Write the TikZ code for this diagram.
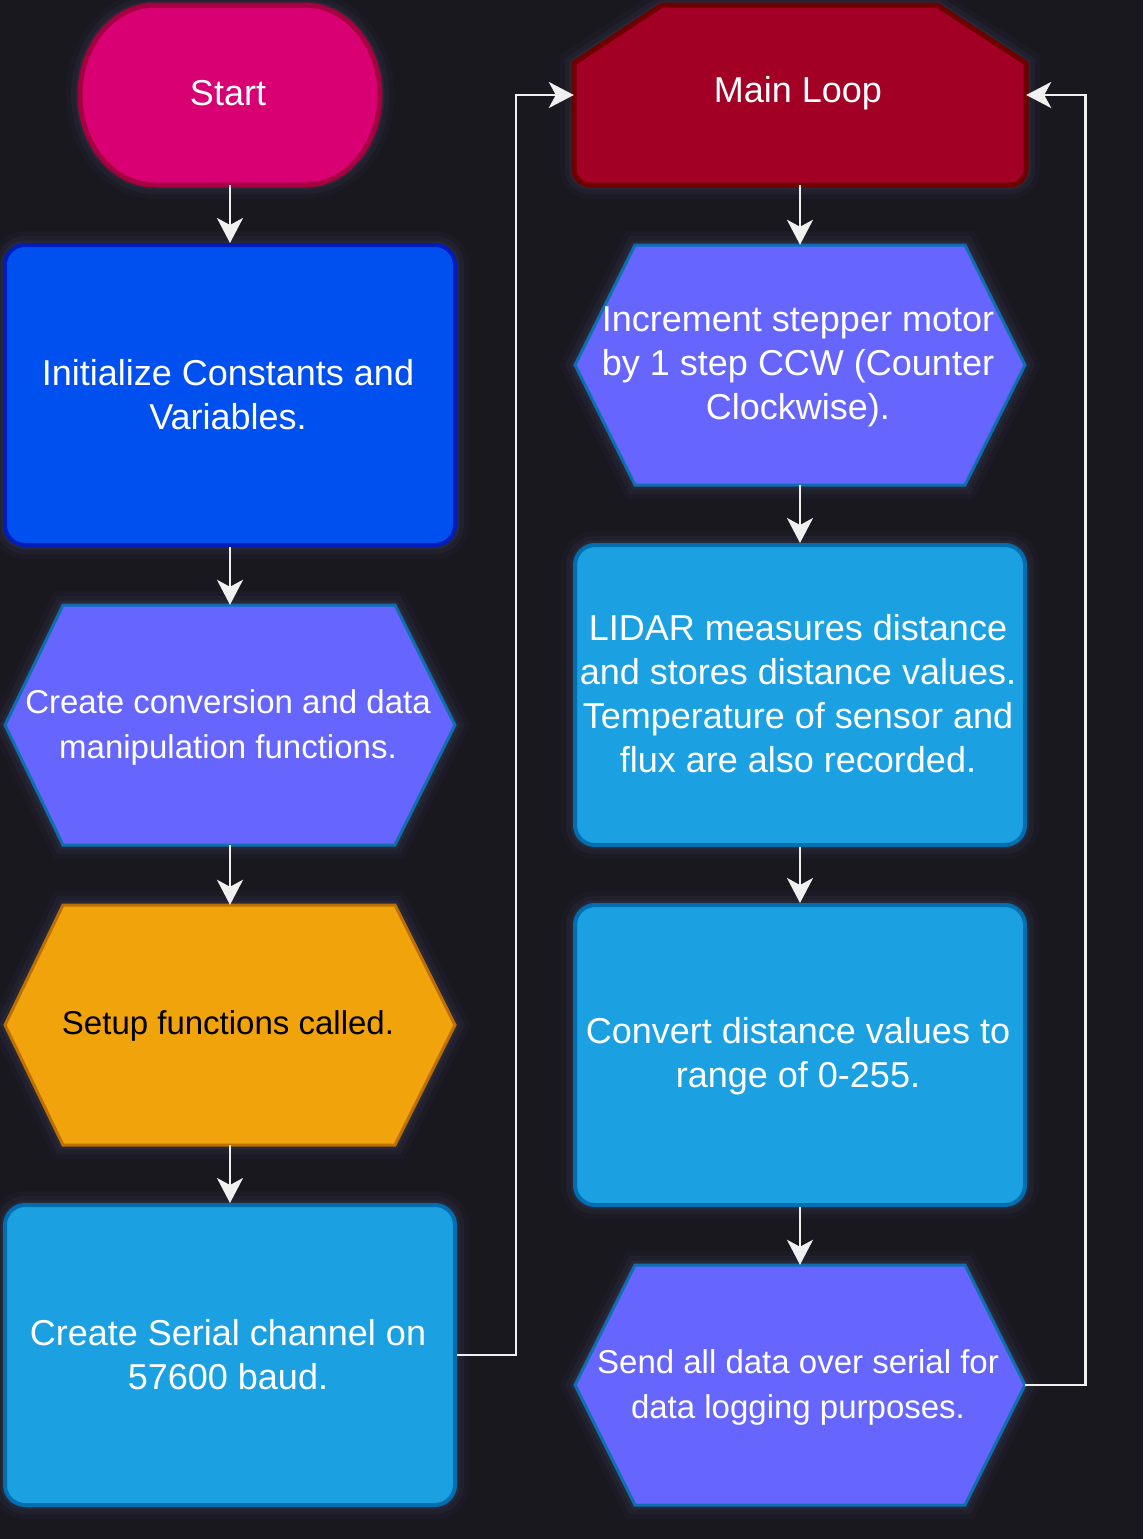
\documentclass[tikz,border=0pt]{standalone}
\usepackage{fontspec}
\setmainfont{Liberation Sans}
\usetikzlibrary{arrows.meta,calc}

\definecolor{bgc}{HTML}{19181F}
\definecolor{glowc}{HTML}{4A4A6E}
\definecolor{linec}{HTML}{F0F0F0}
\definecolor{startfill}{HTML}{D80073}
\definecolor{startline}{HTML}{A50040}
\definecolor{loopfill}{HTML}{A20025}
\definecolor{loopline}{HTML}{6F0000}
\definecolor{initfill}{HTML}{0050EF}
\definecolor{initline}{HTML}{001DBC}
\definecolor{hexfill}{HTML}{6666FF}
\definecolor{hexline}{HTML}{0D6FB0}
\definecolor{setfill}{HTML}{F0A30A}
\definecolor{setline}{HTML}{BD7000}
\definecolor{skyfill}{HTML}{1BA1E2}
\definecolor{skyline}{HTML}{006EAF}

\newcommand{\FontBox}{\fontsize{36}{44}\selectfont}
\newcommand{\FontHex}{\fontsize{33}{45}\selectfont}

\tikzset{
  glow/.style={
    preaction={draw=glowc, line width=28pt, draw opacity=0.08},
    preaction={draw=glowc, line width=18pt, draw opacity=0.11},
    preaction={draw=glowc, line width=9pt, draw opacity=0.18}},
  rbox/.style 2 args={glow, draw=#2, fill=#1, line width=4pt, rounded corners=20pt,
    minimum width=450pt, minimum height=300pt, inner sep=0pt,
    align=center, text=white, font=\FontBox},
  shapepath/.style 2 args={glow, draw=#2, fill=#1, line width=5pt, line join=round},
  hexpath/.style 2 args={glow, draw=#2, fill=#1, line width=3pt, line join=miter},
  txt/.style={inner sep=0pt, align=center, text=white},
  conn/.style={draw=linec, line width=2.8pt,
    -{Stealth[length=25pt, width=26pt, inset=7pt]}}
}

\begin{document}
\begin{tikzpicture}[x=1pt, y=-1pt]
  \useasboundingbox (0,0) rectangle (1143,1539);
  \fill[bgc] (0,0) rectangle (1143,1539);

  % ---- terminator: Start ----
  \path[shapepath={startfill}{startline}]
    (155,5) -- (305,5)
    .. controls (346.4,5) and (380,45.3) .. (380,95)
    .. controls (380,144.7) and (346.4,185) .. (305,185)
    -- (155,185)
    .. controls (113.6,185) and (80,144.7) .. (80,95)
    .. controls (80,45.3) and (113.6,5) .. (155,5) -- cycle;
  \node[txt, font=\FontBox, minimum width=300pt, minimum height=180pt]
    (start) at (230,95) {};
  \node[txt, font=\FontBox] (startlbl) at (228,93) {Start};

  % ---- loop limit: Main Loop ----
  \path[shapepath={loopfill}{loopline}]
    (574,63) -- (662,5) -- (937,5) -- (1026,63)
    [rounded corners=16pt] -- (1026,185) -- (574,185) [sharp corners] -- cycle;
  \node[txt, font=\FontBox, minimum width=452pt, minimum height=180pt]
    (main) at (800,95) {};
  \node[txt, font=\FontBox] (mainlbl) at (798,93) {Main Loop};

  % ---- left column ----
  \node[rbox={initfill}{initline}] (init) at (230,395) {};
  \node[txt, font=\FontBox] (initlbl) at (228,395)
    {Initialize Constants and\\Variables.};

  \path[hexpath={hexfill}{hexline}]
    (5,725) -- (63,605) -- (395,605) -- (455,725) -- (395,845) -- (63,845) -- cycle;
  \node[txt, font=\FontHex, minimum width=450pt, minimum height=240pt]
    (conv) at (230,725) {};
  \node[txt, font=\FontHex] (convlbl) at (228,727)
    {Create conversion and data\\manipulation functions.};

  \path[hexpath={setfill}{setline}]
    (5,1025) -- (63,905) -- (395,905) -- (455,1025) -- (395,1145) -- (63,1145) -- cycle;
  \node[txt, font=\FontHex, minimum width=450pt, minimum height=240pt]
    (setup) at (230,1025) {};
  \node[txt, font=\FontHex, text=black] (setuplbl) at (228,1026)
    {Setup functions called.};

  \node[rbox={skyfill}{skyline}] (serial) at (230,1355) {};
  \node[txt, font=\FontBox] (seriallbl) at (228,1355)
    {Create Serial channel on\\57600 baud.};

  % ---- right column ----
  \path[hexpath={hexfill}{hexline}]
    (575,365) -- (635,245) -- (965,245) -- (1025,365) -- (965,485) -- (635,485) -- cycle;
  \node[txt, font=\FontBox, minimum width=450pt, minimum height=240pt]
    (incr) at (800,365) {};
  \node[txt, font=\FontBox] (incrlbl) at (798,367)
    {Increment stepper motor\\by 1 step CCW (Counter\\Clockwise).};

  \node[rbox={skyfill}{skyline}] (lidar) at (800,695) {};
  \node[txt, font=\FontBox] (lidarlbl) at (798,694)
    {LIDAR measures distance\\and stores distance values.\\Temperature of sensor and\\flux are also recorded.};

  \node[rbox={skyfill}{skyline}] (convert) at (800,1055) {};
  \node[txt, font=\FontBox] (convertlbl) at (798,1056)
    {Convert distance values to\\range of 0-255.};

  \path[hexpath={hexfill}{hexline}]
    (575,1385) -- (635,1265) -- (965,1265) -- (1025,1385) -- (965,1505) -- (635,1505) -- cycle;
  \node[txt, font=\FontHex, minimum width=450pt, minimum height=240pt]
    (send) at (800,1385) {};
  \node[txt, font=\FontHex] (sendlbl) at (798,1387)
    {Send all data over serial for\\data logging purposes.};

  % ---- connectors ----
  \draw[conn] (start) -- (init);
  \draw[conn] (init) -- (conv);
  \draw[conn] (conv) -- (setup);
  \draw[conn] (setup) -- (serial);
  \draw[conn] (serial.east) -- ++(59,0) |- (main.west);

  \draw[conn] (main) -- (incr);
  \draw[conn] (incr) -- (lidar);
  \draw[conn] (lidar) -- (convert);
  \draw[conn] (convert) -- (send);
  \draw[conn] (send.east) -- ++(60,0) |- (main.east);
\end{tikzpicture}
\end{document}
